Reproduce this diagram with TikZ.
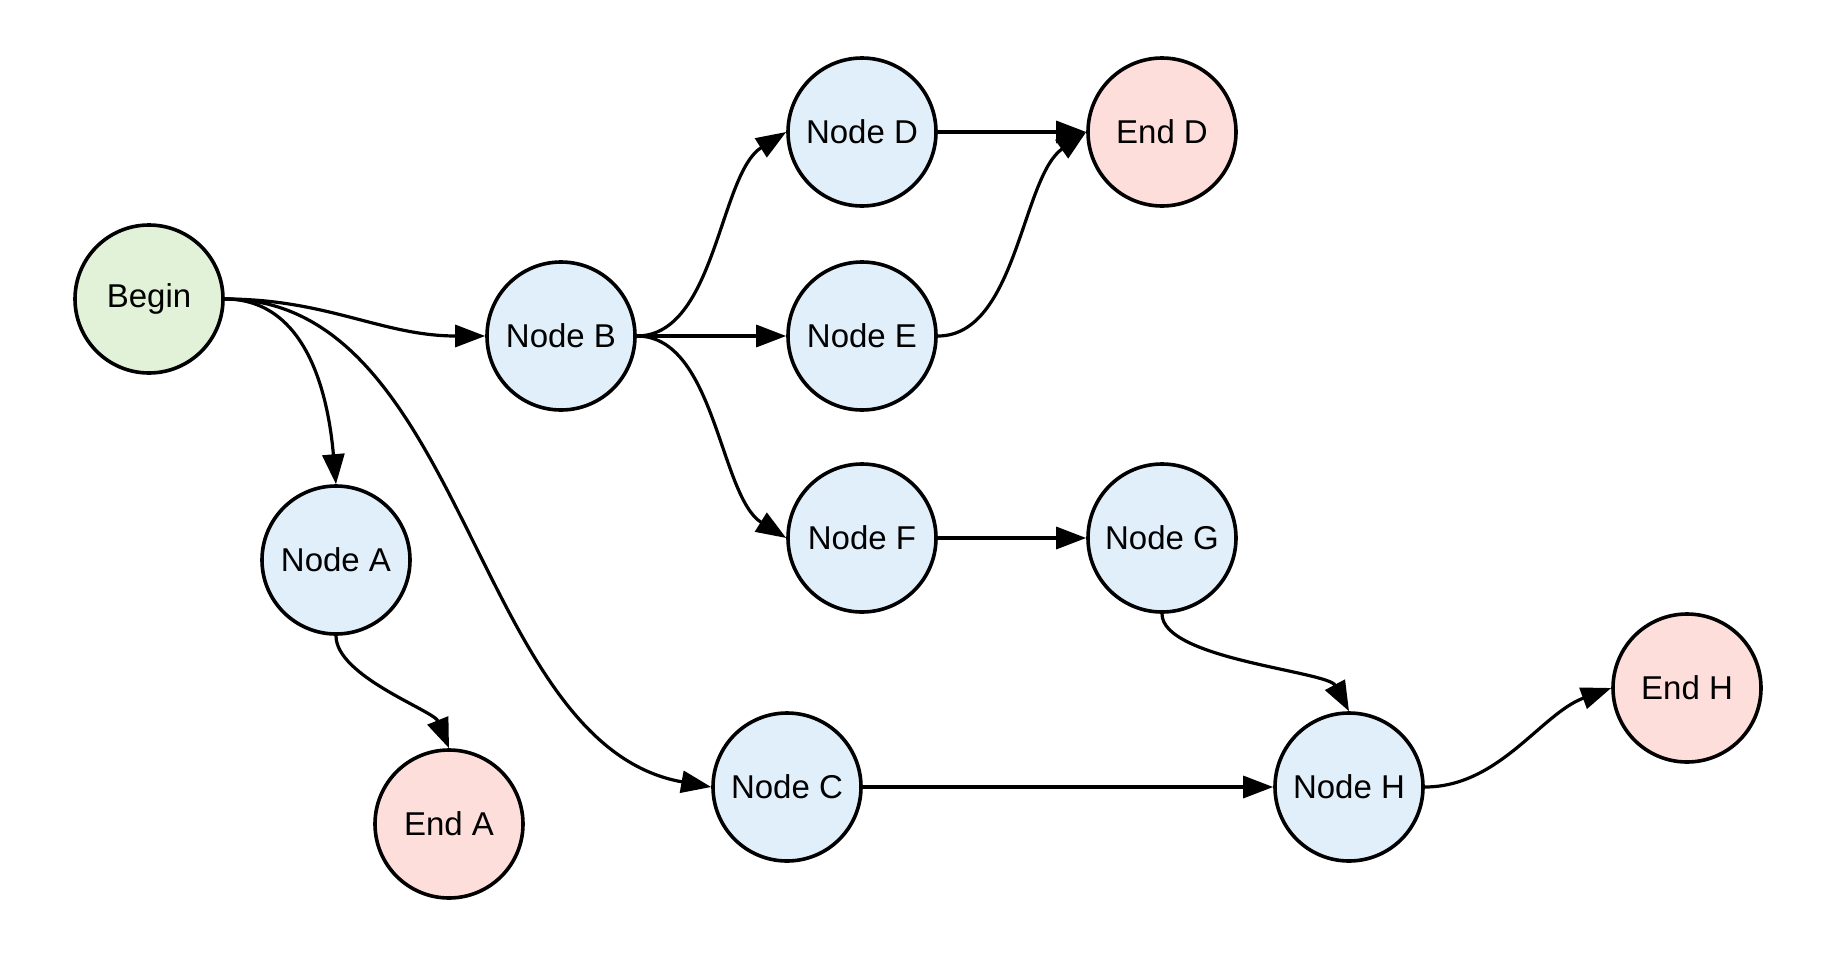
\documentclass[tikz,border=0pt]{standalone}
\usepackage{fontspec}
\setmainfont{Liberation Sans}
\usepackage{tikz}
\usetikzlibrary{arrows.meta}
\definecolor{begfill}{HTML}{E2F2D8}
\definecolor{midfill}{HTML}{E0EFFA}
\definecolor{endfill}{HTML}{FDDEDA}
\definecolor{ink}{HTML}{000000}
\tikzset{
  circ/.style={circle, draw=ink, line width=1.8pt, minimum size=74pt, inner sep=0pt,
               font=\fontsize{16.5}{20}\selectfont, text=ink},
  beg/.style={circ, fill=begfill},
  mid/.style={circ, fill=midfill},
  fin/.style={circ, fill=endfill},
  fl/.style={-{Triangle[length=15pt, width=11pt]}, draw=ink, line width=1.6pt}
}

\begin{document}
\begin{tikzpicture}[x=0.5pt, y=-0.5pt]
  \useasboundingbox (0,0) rectangle (1838,975);
  \node[beg] (begin) at (149,299) {Begin};
  \node[mid] (b) at (561,336) {Node B};
  \node[mid] (a) at (336,560) {Node A};
  \node[fin] (enda) at (449,824) {End A};
  \node[mid] (c) at (787,787) {Node C};
  \node[mid] (d) at (862,132) {Node D};
  \node[mid] (e) at (862,336) {Node E};
  \node[mid] (f) at (862,538) {Node F};
  \node[fin] (endd) at (1162,132) {End D};
  \node[mid] (g) at (1162,538) {Node G};
  \node[mid] (h) at (1349,787) {Node H};
  \node[fin] (endh) at (1687,688) {End H};
  % from begin
  \draw[fl] (begin.east) to[out=0, in=180] (b.west);
  \draw[fl] (begin.east) to[out=0, in=95] (a.north);
  \draw[fl] (begin.east) to[out=0, in=170, looseness=0.9] (c.west);
  % fan out of node b
  \draw[fl] (b.east) to[out=0, in=212, looseness=0.8] (d.west);
  \draw[fl] (b.east) -- (e.west);
  \draw[fl] (b.east) to[out=0, in=148, looseness=0.8] (f.west);
  \draw[fl] (d) -- (endd);
  \draw[fl] (e.east) to[out=0, in=215, looseness=0.8] (endd.west);
  \draw[fl] (f) -- (g);
  \draw[fl] (g.south) to[out=-90, in=118, looseness=0.55] (h.north);
  \draw[fl] (a.south) to[out=-90, in=112, looseness=0.65] (enda.north);
  \draw[fl] (c) -- (h);
  \draw[fl] (h.east) to[out=0, in=200, looseness=0.9] (endh.west);
\end{tikzpicture}
\end{document}
